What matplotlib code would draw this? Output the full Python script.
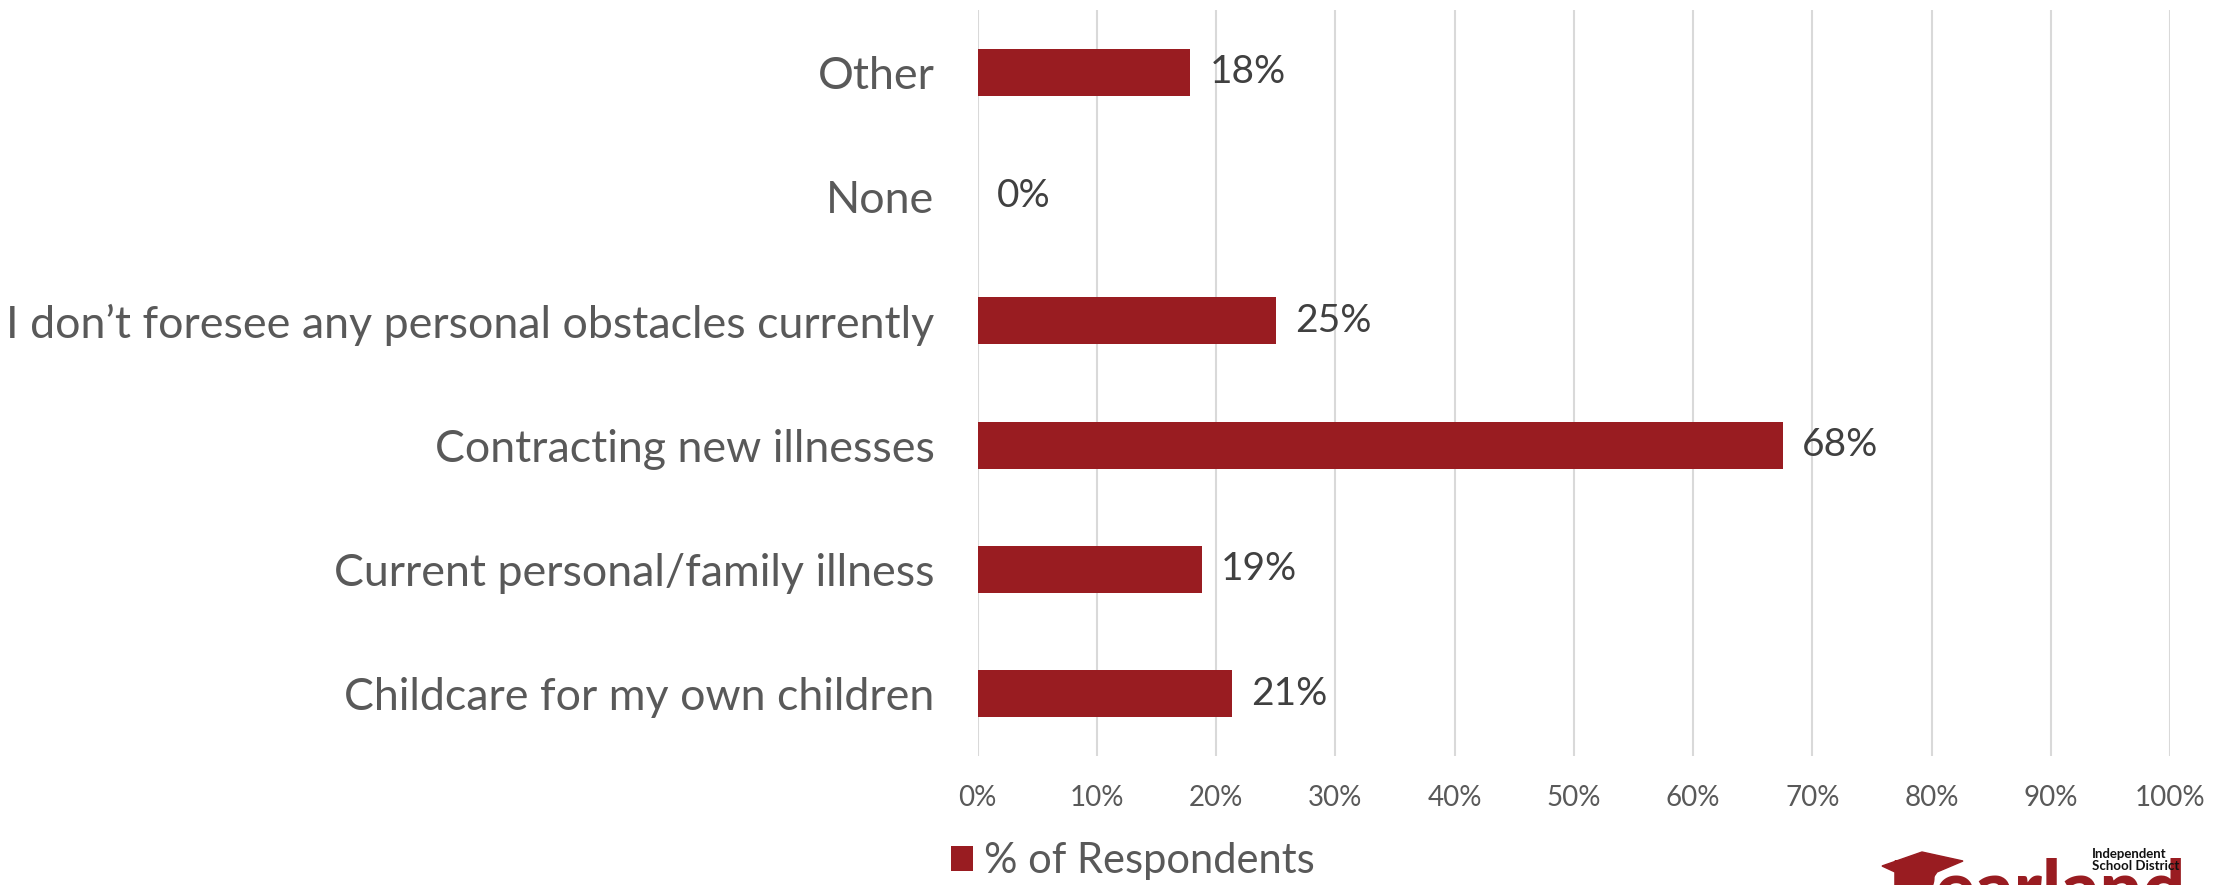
import matplotlib
matplotlib.use("Agg")
from matplotlib import pyplot as plt
from matplotlib.patches import Patch, Polygon

# survey answers, top to bottom as shown
categories = ["Other", "None", "I don\u2019t foresee any personal obstacles currently",
              "Contracting new illnesses", "Current personal/family illness",
              "Childcare for my own children"]
values = [17.8, 0.0, 25.0, 67.5, 18.8, 21.3]
xticks = [0, 10, 20, 30, 40, 50, 60, 70, 80, 90, 100]
series_name = "% of Respondents"

bar_color = "#991C21"
text_color = "#595959"
plt.rcParams["font.family"] = ["Lato", "DejaVu Sans"]

fig = plt.figure(figsize=(22.34, 8.85), dpi=100)
ax = fig.add_axes([0.4376, 0.1458, 0.5338, 0.8429])

pos = list(range(len(categories)))
bars = ax.barh(pos, values, height=0.38, color=bar_color, zorder=3, label=series_name)
ax.set_ylim(len(categories) - 0.5, -0.5)
ax.set_yticks(pos)
ax.set_yticklabels(categories, fontsize=32.2, color=text_color)
ax.set_xlim(0, 100)
ax.set_xticks(xticks)
ax.set_xticklabels([f"{t}%" for t in xticks], fontsize=20, color=text_color)
ax.tick_params(axis="both", length=0)
ax.tick_params(axis="y", pad=31)
ax.tick_params(axis="x", pad=21)
ax.xaxis.grid(True, color="#D9D9D9", linewidth=1.5, zorder=0)
for s in ax.spines.values():
    s.set_visible(False)

ax.bar_label(bars, labels=[f"{v:.0f}%" for v in values], padding=14,
             fontsize=28, color="#404040")

ax.legend(loc="center left", bbox_to_anchor=(0.4255, 0.027), bbox_transform=fig.transFigure,
          frameon=False, fontsize=30, handlelength=0.55, handleheight=0.55,
          handletextpad=0.25, borderpad=0, borderaxespad=0, labelcolor=text_color)

# logo in the corner (partially cut off)
W, H = 2234, 885
cap = [(1882, 866), (1922, 852), (1963, 861), (1937, 872), (1928, 885), (1895, 885), (1895, 872)]
fig.patches.append(Polygon([(x / W, 1 - y / H) for x, y in cap], closed=True,
                           transform=fig.transFigure, color=bar_color))
fig.text(1888 / W, -0.032, "Pearland", fontsize=54, fontweight="black", color=bar_color,
         ha="left", va="baseline")
fig.text(2092 / W, 1 - 848 / H, "Independent\nSchool District", fontsize=9.5, fontweight="bold",
         color="#111111", ha="left", va="top", linespacing=0.95)

fig.savefig("out.png", dpi=100)
